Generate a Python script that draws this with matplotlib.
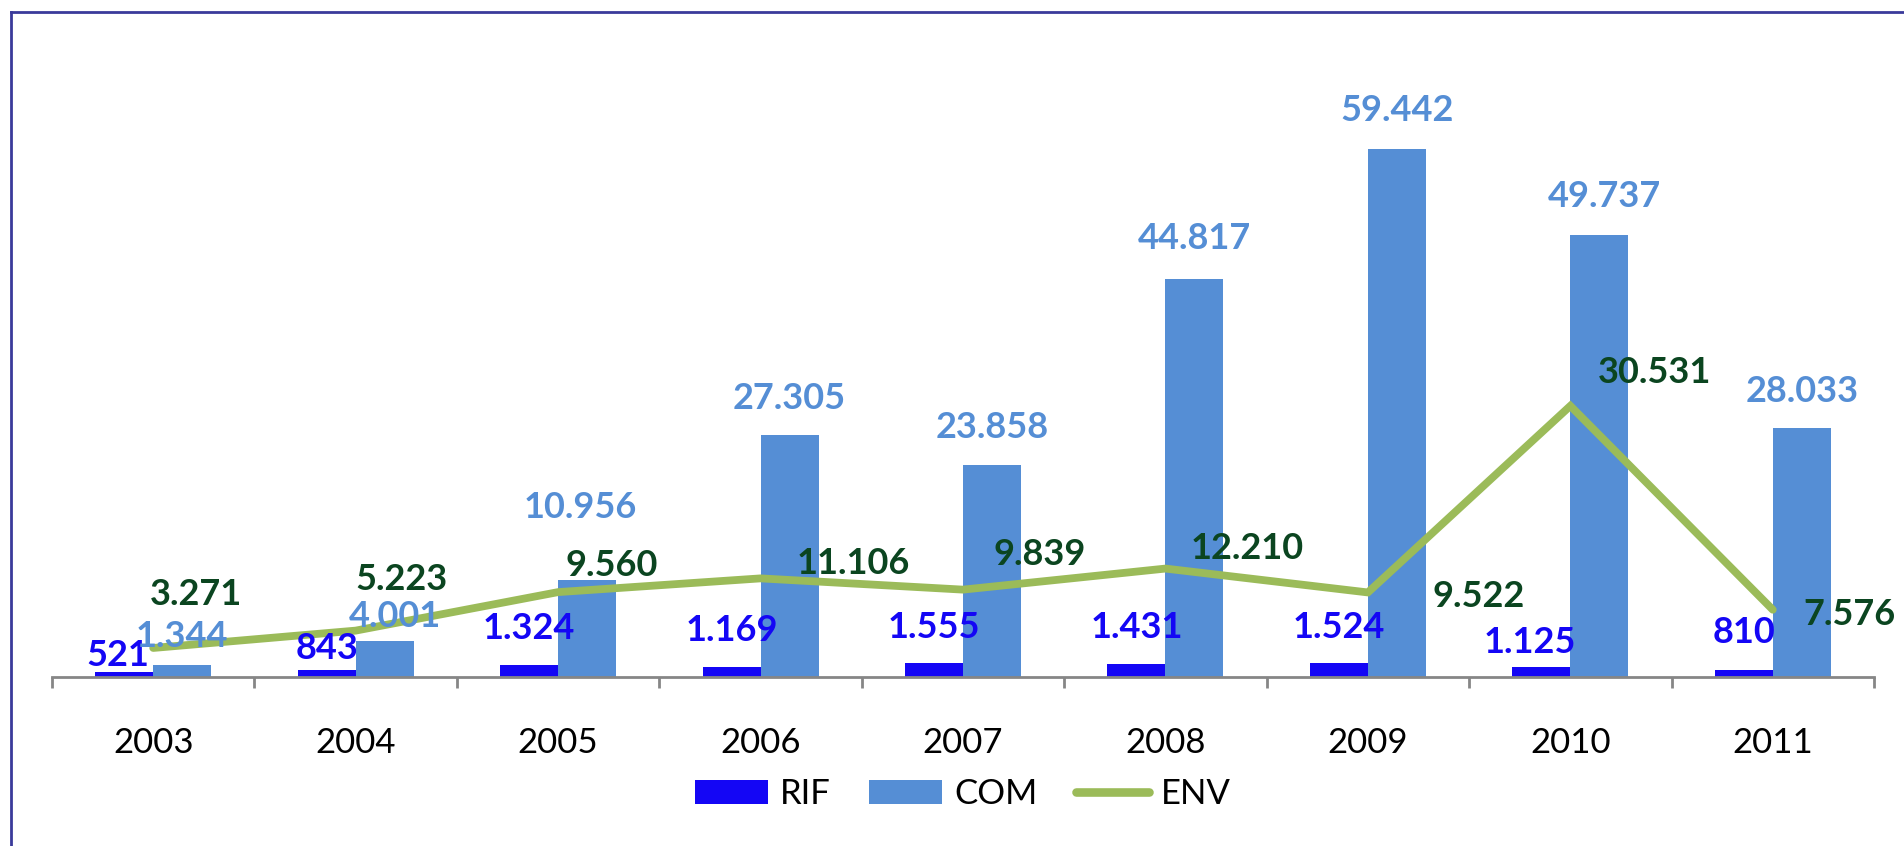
import numpy as np
import matplotlib.pyplot as plt
from matplotlib.lines import Line2D

anos = ['2003', '2004', '2005', '2006', '2007', '2008', '2009', '2010', '2011']
rif = [521, 843, 1324, 1169, 1555, 1431, 1524, 1125, 810]
com = [1344, 4001, 10956, 27305, 23858, 44817, 59442, 49737, 28033]
env = [3271, 5223, 9560, 11106, 9839, 12210, 9522, 30531, 7576]

# desplazamientos de las etiquetas (pixeles), como en el original
off_rif = [(-6, 17), (0, 21), (0, 37), (0, 36), (0, 36), (0, 37), (0, 36), (-12, 25), (0, 37)]
off_com = [(0, 29), (10, 25), (-7, 72), (0, 36), (0, 38), (0, 41), (0, 39), (5, 39), (0, 37)]
off_env = [(43, 53), (46, 51), (54, 27), (93, 15), (77, 35), (82, 20), (111, -4), (84, 33), (77, -5)]

c_rif = '#1406F5'
c_com = '#558ED5'
c_env = '#9BBB59'
c_env_txt = '#0B4520'

plt.rcParams['font.family'] = ['Lato', 'DejaVu Sans']

def fmt(v):
    return f"{v:,}".replace(',', '.')

fig = plt.figure(figsize=(19.04, 8.46), dpi=100)
ax = fig.add_axes([52/1904, 169/846, 1822/1904, 621.6/846])

x = np.arange(len(anos))
w = 0.2866
b1 = ax.bar(x - w/2, rif, w, color=c_rif, label='RIF', zorder=2)
b2 = ax.bar(x + w/2, com, w, color=c_com, label='COM', zorder=2)
ax.plot(x, env, color=c_env, lw=5.6, solid_capstyle='round', solid_joinstyle='miter', zorder=3)

fs = 26
for i in range(len(anos)):
    ax.annotate(fmt(rif[i]), (x[i] - w/2, rif[i]), xytext=off_rif[i], textcoords='offset pixels',
                ha='center', va='center', fontsize=fs, fontweight='bold', color=c_rif, zorder=5)
    ax.annotate(fmt(com[i]), (x[i] + w/2, com[i]), xytext=off_com[i], textcoords='offset pixels',
                ha='center', va='center', fontsize=fs, fontweight='bold', color=c_com, zorder=5)
    ax.annotate(fmt(env[i]), (x[i], env[i]), xytext=off_env[i], textcoords='offset pixels',
                ha='center', va='center', fontsize=fs, fontweight='bold', color=c_env_txt, zorder=5)

ax.set_xlim(-0.5, len(anos) - 0.5)
ax.set_ylim(0, 70000)
for s in ['top', 'right', 'left']:
    ax.spines[s].set_visible(False)
ax.spines['bottom'].set_color('#868686')
ax.spines['bottom'].set_linewidth(2)
ax.set_yticks([])
ax.set_xticks(np.arange(-0.5, len(anos)), minor=False)
ax.set_xticklabels([])
ax.tick_params(axis='x', which='major', length=8, width=2, color='#868686')
ax.set_xticks(x, minor=True)
ax.set_xticklabels(anos, minor=True)
ax.tick_params(axis='x', which='minor', length=0, pad=36, labelsize=25)

l_env = Line2D([], [], color=c_env, lw=6.2, solid_capstyle='round')
leg = fig.legend([b1, b2, l_env], ['RIF', 'COM', 'ENV'], loc='center',
                 bbox_to_anchor=(963/1904, 1 - 794/846), ncol=3, frameon=False,
                 fontsize=25, handlelength=2.1, handleheight=0.69, columnspacing=1.1,
                 handletextpad=0.35)

# borde del grafico
fig.add_artist(Line2D([11/1904, 11/1904], [0, 1 - 12/846], color='#3A3A9A', lw=2))
fig.add_artist(Line2D([11/1904, 1], [1 - 12/846, 1 - 12/846], color='#3A3A9A', lw=2))

fig.savefig('out.png', dpi=100)
